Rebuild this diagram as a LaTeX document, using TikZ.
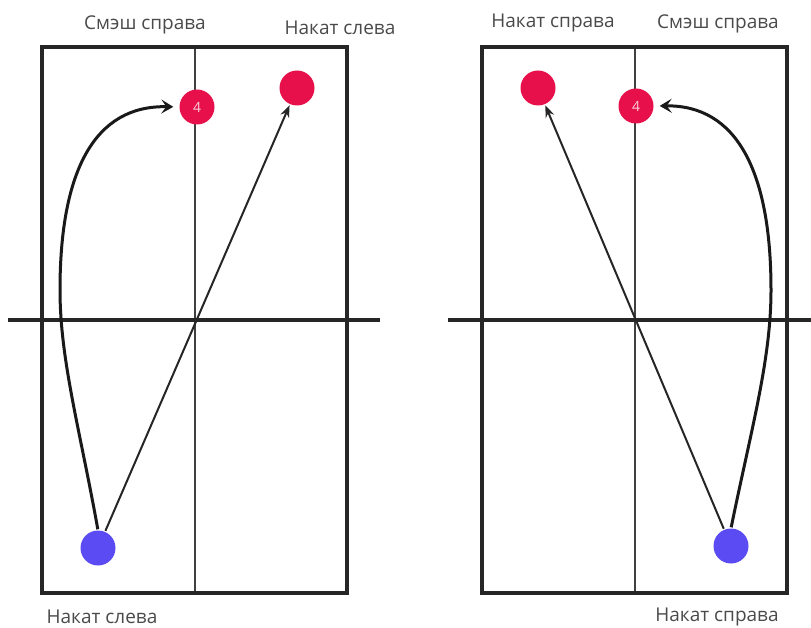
\documentclass[tikz,border=0pt]{standalone}
\usepackage{fontspec}
\setmainfont{Open Sans}
\usetikzlibrary{arrows.meta}
\definecolor{ballred}{HTML}{E8104A}
\definecolor{ballblue}{HTML}{5B4BF2}
\definecolor{labelgray}{HTML}{4A4A4A}
\tikzset{
  court/.style={line width=4pt, draw=black!85},
  midline/.style={line width=1.4pt, draw=black!75},
  netline/.style={line width=4pt, draw=black!85},
  redball/.style={circle, fill=ballred, minimum size=35pt, inner sep=0pt, text=white!80!ballred, font=\fontsize{14}{14}\selectfont},
  blueball/.style={circle, fill=ballblue, minimum size=35pt, inner sep=0pt},
  lbl/.style={text=labelgray, font=\fontsize{19}{19}\selectfont, inner sep=0pt},
  shot/.style={line width=2pt, draw=black!85, -{Stealth[length=12pt,width=9pt]}, shorten >=1pt, shorten <=1pt},
  smash/.style={line width=3pt, draw=black!90, -{Stealth[length=12pt,width=14pt,inset=5pt]}, shorten >=6pt, shorten <=1pt}
}
\begin{document}
\begin{tikzpicture}[x=1pt,y=-1pt]
\useasboundingbox (0,0) rectangle (811,628);
% left panel
\draw[midline] (195,47) -- (195,593);
\draw[court] (42,47) rectangle (347,593);
\draw[netline] (8,320) -- (380,320);
\node[redball] (rL4) at (197,107) {4};
\node[redball] (rL) at (297,88) {};
\node[blueball] (bL) at (98,548) {};
\draw[shot] (bL) -- (rL);
\draw[smash] (bL.north) .. controls (80,430) and (60,360) .. (60,290)
  .. controls (60,170) and (95,105) .. (rL4.west);
\node[lbl] (tL1) at (145,25) {Смэш справа};
\node[lbl] (tL2) at (340,28) {Накат слева};
\node[lbl] (bLl) at (102,617) {Накат слева};
% right panel
\draw[midline] (635,47) -- (635,593);
\draw[court] (482,47) rectangle (787,593);
\draw[netline] (448,320) -- (815,320);
\node[redball] (rR4) at (636,106) {4};
\node[redball] (rR) at (538,88) {};
\node[blueball] (bR) at (731,546) {};
\draw[shot] (bR) -- (rR);
\draw[smash] (bR.north) .. controls (751,430) and (771,360) .. (771,290)
  .. controls (771,170) and (736,105) .. (rR4.east);
\node[lbl] (tR1) at (553,23) {Накат справа};
\node[lbl] (tR2) at (718,24) {Смэш справа};
\node[lbl] (bRl) at (717,617) {Накат справа};
\end{tikzpicture}
\end{document}
